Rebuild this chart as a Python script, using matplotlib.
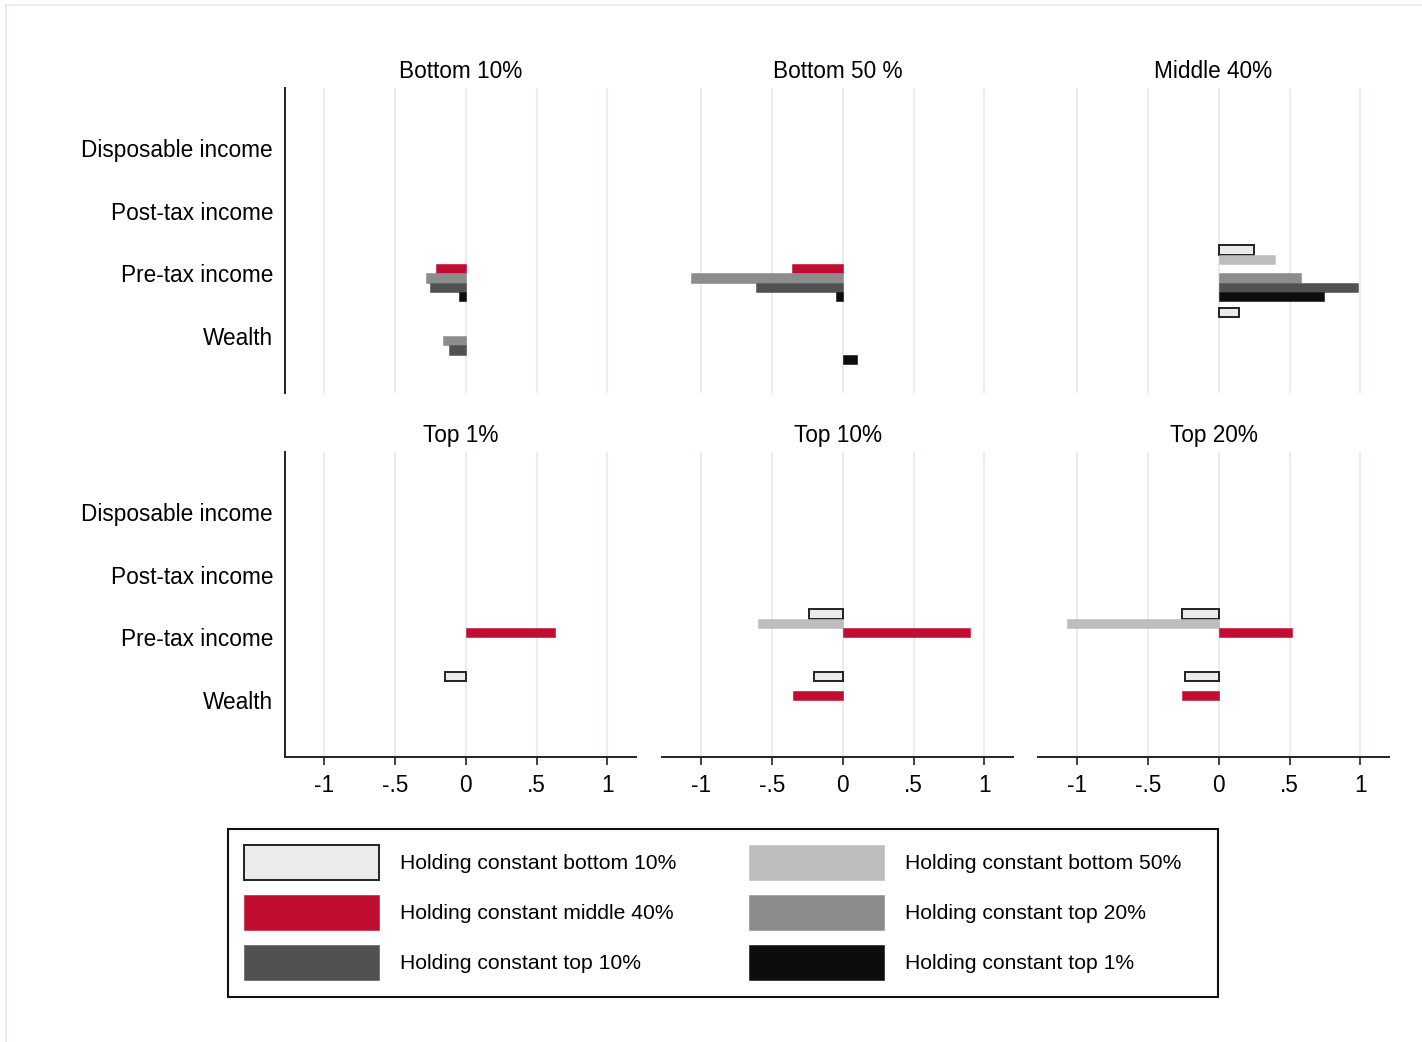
import numpy as np
import matplotlib
matplotlib.use("Agg")
import matplotlib.pyplot as plt
from matplotlib.patches import Patch, Rectangle
from matplotlib.lines import Line2D

plt.rcParams['font.family'] = ['Liberation Sans', 'DejaVu Sans']

nan = np.nan

categories = ["Disposable income", "Post-tax income", "Pre-tax income", "Wealth"]
panel_titles = ["Bottom 10%", "Bottom 50 %", "Middle 40%", "Top 1%", "Top 10%", "Top 20%"]
series_labels = ["Holding constant bottom 10%", "Holding constant bottom 50%",
                 "Holding constant middle 40%", "Holding constant top 20%",
                 "Holding constant top 10%", "Holding constant top 1%"]
series_colors = ["#ebebeb", "#bdbdbd", "#c00d31", "#8c8c8c", "#515151", "#0d0d0d"]

# values per series: [bottom10, bottom50, middle40, top20, top10, top1]
empty = [nan, nan, nan, nan, nan, nan]
b10_pretax = [nan, nan, -0.21, -0.28, -0.25, -0.05]
b10_wealth = [nan, nan, nan, -0.16, -0.12, nan]
b50_pretax = [nan, nan, -0.36, -1.07, -0.61, -0.05]
b50_wealth = [nan, nan, nan, nan, nan, 0.10]
m40_pretax = [0.25, 0.40, nan, 0.58, 0.98, 0.74]
m40_wealth = [0.14, nan, nan, nan, nan, nan]
t1_pretax = [nan, nan, 0.63, nan, nan, nan]
t1_wealth = [-0.15, nan, nan, nan, nan, nan]
t10_pretax = [-0.24, -0.60, 0.90, nan, nan, nan]
t10_wealth = [-0.20, nan, -0.35, nan, nan, nan]
t20_pretax = [-0.26, -1.07, 0.52, nan, nan, nan]
t20_wealth = [-0.24, nan, -0.26, nan, nan, nan]

panel_data = [
    [empty, empty, b10_pretax, b10_wealth],
    [empty, empty, b50_pretax, b50_wealth],
    [empty, empty, m40_pretax, m40_wealth],
    [empty, empty, t1_pretax, t1_wealth],
    [empty, empty, t10_pretax, t10_wealth],
    [empty, empty, t20_pretax, t20_wealth],
]

xticks = [-1, -0.5, 0, 0.5, 1]
xticklabels = ["-1", "-.5", "0", ".5", "1"]

W, H = 1422, 1042
fig = plt.figure(figsize=(W / 100, H / 100), dpi=100)

# light outer frame
fig.add_artist(Line2D([6 / W, 6 / W], [0, 1 - 5 / H], transform=fig.transFigure, color="#e4ebeb", lw=1.2))
fig.add_artist(Line2D([6 / W, 1], [1 - 5 / H, 1 - 5 / H], transform=fig.transFigure, color="#e4ebeb", lw=1.2))

lefts = [285, 662, 1038]
tops = [88, 452]
aw, ah = 351, 305
bh = 0.149
cat_pos = np.arange(len(categories))
FS = 16.3

for i, title in enumerate(panel_titles):
    r, c = divmod(i, 3)
    ax = fig.add_axes([lefts[c] / W, 1 - (tops[r] + ah) / H, aw / W, ah / H])
    ax.set_axisbelow(True)
    ax.xaxis.grid(True, color="#e6eeee", lw=1.6)
    vals = np.array(panel_data[i], dtype=float)  # categories x series
    for k in range(len(series_labels)):
        y = cat_pos + (k - 2.5) * bh
        if k == 0:
            ax.barh(y, vals[:, k], height=bh, color=series_colors[k], edgecolor="#222222", linewidth=1.4)
        else:
            ax.barh(y, vals[:, k], height=bh, color=series_colors[k], edgecolor=series_colors[k], linewidth=0.4)
    ax.set_xlim(-1.277, 1.202)
    ax.set_ylim(3.91, -0.957)
    ax.set_xticks(xticks)
    ax.set_yticks(cat_pos)
    for s in ["top", "right"]:
        ax.spines[s].set_visible(False)
    ax.spines["left"].set_visible(c == 0)
    ax.spines["bottom"].set_visible(r == 1)
    for s in ["left", "bottom"]:
        ax.spines[s].set_linewidth(1.4)
        ax.spines[s].set_color("#222222")
    if r == 1:
        ax.set_xticklabels(xticklabels, fontsize=FS)
        ax.tick_params(axis="x", length=6, width=1.2, color="#222222", pad=6)
    else:
        ax.tick_params(axis="x", length=0, labelbottom=False)
    if c == 0:
        ax.set_yticklabels(categories, fontsize=FS)
    else:
        ax.set_yticklabels([])
    ax.tick_params(axis="y", length=0, pad=8.6)
    ax.set_title(title, fontsize=FS, pad=7)

handles = [Patch(facecolor=series_colors[k],
                 edgecolor="#222222" if k == 0 else series_colors[k],
                 linewidth=1.4 if k == 0 else 0.4) for k in range(6)]
order = [0, 2, 4, 1, 3, 5]
leg = fig.legend([handles[k] for k in order], [series_labels[k] for k in order],
                 ncol=2, loc="upper left", bbox_to_anchor=(229 / W, 1 - 830 / H),
                 frameon=False, fontsize=15.2, handlelength=6.4, handleheight=2.17,
                 handletextpad=1.0, labelspacing=0.71, columnspacing=3.4,
                 borderpad=0.72, borderaxespad=0)

# legend box
fig.add_artist(Rectangle((228 / W, 1 - 997 / H), (1218 - 228) / W, (997 - 829) / H,
                         transform=fig.transFigure, fill=False, edgecolor="#111111", lw=1.5))

fig.savefig("out.png", dpi=100, facecolor="white")
